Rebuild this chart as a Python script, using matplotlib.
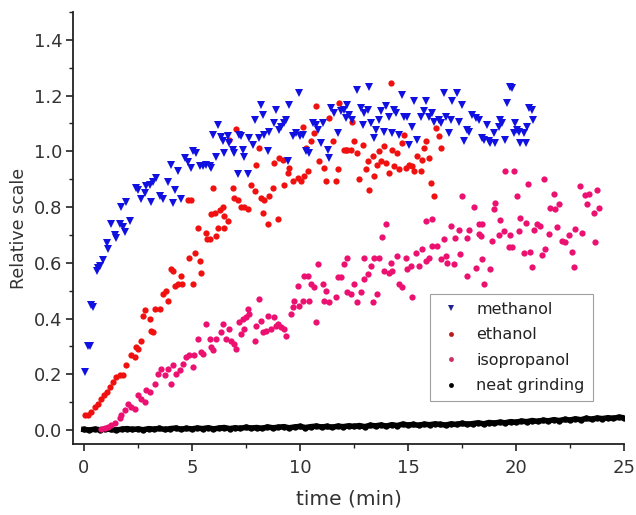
import matplotlib
matplotlib.use("Agg")
import matplotlib.pyplot as plt
from matplotlib.lines import Line2D
from matplotlib.ticker import MultipleLocator

plt.rcParams['font.family'] = ['DejaVu Sans']

# ---------------- data ----------------
methanol_t = [0.05, 0.2, 0.28, 0.35, 0.43, 0.59, 0.66, 0.74, 0.89, 1.05, 1.12, 1.28, 1.43, 1.51, 1.66,
              1.74, 1.81, 1.89, 1.97, 2.12, 2.43, 2.5, 2.66, 2.82, 2.89, 3.05, 3.12, 3.2, 3.35, 3.51,
              3.66, 3.89, 4.05, 4.12, 4.2, 4.36, 4.51, 4.66, 4.82, 4.97, 5.05, 5.2, 5.36, 5.51, 5.66,
              5.82, 5.9, 5.97, 6.13, 6.2, 6.35, 6.43, 6.51, 6.66, 6.74, 6.9, 6.97, 7.12, 7.2, 7.28,
              7.35, 7.43, 7.59, 7.66, 7.82, 7.9, 8.13, 8.2, 8.28, 8.36, 8.51, 8.59, 8.82, 8.89, 9.05,
              9.13, 9.28, 9.36, 9.43, 9.51, 9.66, 9.82, 9.97, 10.0, 10.12, 10.28, 10.43, 10.59, 10.74,
              10.82, 10.97, 11.05, 11.28, 11.36, 11.43, 11.59, 11.74, 11.9, 12.05, 12.12, 12.2, 12.28,
              12.43, 12.66, 12.82, 12.9, 12.97, 13.13, 13.2, 13.28, 13.43, 13.51, 13.67, 13.74, 13.9,
              13.97, 14.13, 14.28, 14.36, 14.44, 14.59, 14.74, 14.82, 14.97, 15.05, 15.2, 15.28, 15.43,
              15.59, 15.74, 15.82, 15.97, 16.13, 16.2, 16.44, 16.51, 16.67, 16.74, 16.9, 16.97, 17.05,
              17.28, 17.36, 17.51, 17.59, 17.74, 17.82, 17.97, 18.13, 18.28, 18.44, 18.51, 18.67, 18.74,
              18.82, 18.97, 19.05, 19.2, 19.28, 19.36, 19.51, 19.59, 19.74, 19.82, 19.9, 19.97, 20.05,
              20.13, 20.2, 20.36, 20.44, 20.51, 20.59, 20.74, 20.8]
methanol_y = [0.21, 0.30, 0.30, 0.45, 0.44, 0.57, 0.58, 0.59, 0.61, 0.67, 0.65, 0.74, 0.70, 0.69, 0.74,
              0.80, 0.73, 0.71, 0.82, 0.75, 0.87, 0.86, 0.83, 0.85, 0.875, 0.88, 0.82, 0.89, 0.905, 0.84,
              0.83, 0.89, 0.95, 0.815, 0.86, 0.93, 0.83, 0.976, 0.96, 0.94, 1.00, 0.994, 0.946, 0.946, 0.95,
              0.946, 0.94, 1.06, 0.98, 1.095, 1.05, 1.036, 0.994, 1.054, 1.03, 1.006, 0.994, 0.917, 1.06, 1.054,
              1.006, 0.98, 0.917, 1.047, 1.024, 1.113, 1.047, 1.167, 1.131, 1.06, 1.0, 1.07, 1.10, 1.149, 1.077,
              1.089, 1.10, 1.113, 0.964, 1.167, 1.054, 1.065, 1.208, 1.054, 1.06, 1.0, 0.994, 1.10, 1.095,
              1.077, 1.03, 1.10, 1.006, 0.976, 1.155, 1.137, 1.065, 1.143, 1.149, 1.119, 1.167, 1.131,
              1.113, 1.22, 1.155, 1.095, 1.137, 1.149, 1.232, 1.10, 1.047, 1.077, 1.113, 1.143, 1.07,
              1.161, 1.125, 1.065, 1.149, 1.137, 1.06, 1.202, 1.125, 1.125, 1.024, 1.089, 1.179, 1.042,
              1.125, 1.143, 1.179, 1.125, 1.137, 1.107, 1.113, 1.10, 1.208, 1.125, 1.065, 1.113, 1.179,
              1.208, 1.107, 1.167, 1.036, 1.077, 1.071, 1.131, 1.119, 1.113, 1.047, 1.042, 1.095, 1.036,
              1.03, 1.065, 1.03, 1.089, 1.113, 1.10, 1.042, 1.173, 1.232, 1.226, 1.065, 1.10, 1.077,
              1.071, 1.03, 1.065, 1.03, 1.089, 1.155, 1.149, 1.113]

ethanol_t = [0.05, 0.2, 0.35, 0.51, 0.66, 0.81, 0.95, 1.05, 1.2, 1.35, 1.51, 1.66, 1.81, 1.97, 2.2,
             2.35, 2.4, 2.51, 2.66, 2.74, 2.82, 3.05, 3.12, 3.2, 3.28, 3.51, 3.66, 3.82, 3.89, 4.05,
             4.12, 4.2, 4.36, 4.51, 4.55, 4.82, 4.89, 4.97, 5.05, 5.15, 5.28, 5.36, 5.43, 5.66, 5.7,
             5.82, 5.9, 5.97, 6.05, 6.13, 6.2, 6.3, 6.43, 6.5, 6.51, 6.66, 6.74, 6.9, 6.95, 7.05,
             7.12, 7.28, 7.43, 7.59, 7.74, 7.9, 7.98, 8.13, 8.2, 8.28, 8.36, 8.51, 8.59, 8.74, 8.82,
             8.97, 9.05, 9.2, 9.28, 9.43, 9.51, 9.66, 9.9, 10.05, 10.12, 10.2, 10.28, 10.36, 10.51,
             10.67, 10.74, 10.9, 11.13, 11.2, 11.36, 11.51, 11.67, 11.74, 11.82, 12.05, 12.12, 12.2,
             12.36, 12.43, 12.51, 12.66, 12.74, 12.9, 13.05, 13.13, 13.2, 13.36, 13.43, 13.59, 13.67,
             13.74, 13.9, 13.97, 14.13, 14.2, 14.28, 14.36, 14.51, 14.59, 14.74, 14.82, 14.9, 15.05,
             15.2, 15.28, 15.43, 15.59, 15.67, 15.74, 15.82, 15.97, 16.05, 16.2, 16.28, 16.44, 16.51]
ethanol_y = [0.054, 0.054, 0.065, 0.083, 0.095, 0.113, 0.125, 0.137, 0.155, 0.173, 0.19, 0.196, 0.196, 0.232, 0.268,
             0.262, 0.298, 0.292, 0.321, 0.411, 0.429, 0.399, 0.357, 0.351, 0.435, 0.435, 0.488, 0.50, 0.464, 0.577,
             0.571, 0.518, 0.524, 0.554, 0.524, 0.824, 0.619, 0.824, 0.524, 0.637, 0.726, 0.607, 0.565, 0.708, 0.685,
             0.685, 0.774, 0.869, 0.78, 0.696, 0.726, 0.79, 0.80, 0.768, 0.726, 0.75, 1.042, 0.869, 0.833, 1.08,
             0.827, 0.80, 0.80, 0.792, 0.881, 0.857, 0.952, 1.012, 0.833, 0.78, 0.827, 0.738, 0.839, 0.869, 0.958,
             0.756, 0.976, 0.97, 0.881, 0.923, 0.94, 0.893, 0.905, 0.893, 1.089, 0.911, 1.012, 0.929, 1.036,
             1.065, 1.161, 0.964, 0.94, 0.893, 1.119, 1.036, 0.893, 0.935, 1.173, 1.006, 1.006, 1.006,
             1.006, 1.107, 1.036, 0.994, 0.899, 1.024, 0.935, 0.964, 0.863, 0.982, 0.911, 0.952, 1.0,
             0.964, 1.018, 0.958, 0.923, 1.244, 1.006, 0.946, 0.994, 0.935, 1.03, 1.06, 0.94, 0.952,
             0.946, 0.929, 0.982, 0.929, 0.97, 1.012, 1.036, 0.976, 0.887, 0.839, 1.083, 1.054, 1.012]

isopropanol_t = [0.8, 1.0, 1.12, 1.28, 1.43, 1.66, 1.74, 1.89, 2.05, 2.2, 2.35, 2.51, 2.66, 2.82, 2.89,
                 3.05, 3.28, 3.43, 3.59, 3.74, 3.89, 4.05, 4.12, 4.28, 4.43, 4.59, 4.74, 4.89, 5.05, 5.12,
                 5.28, 5.43, 5.51, 5.66, 5.82, 5.9, 5.97, 6.13, 6.36, 6.43, 6.59, 6.74, 6.82, 6.97, 7.05,
                 7.2, 7.28, 7.35, 7.43, 7.51, 7.59, 7.66, 7.9, 7.97, 8.13, 8.2, 8.28, 8.43, 8.51, 8.67,
                 8.82, 8.9, 8.97, 9.13, 9.28, 9.36, 9.59, 9.66, 9.74, 9.9, 9.97, 10.12, 10.2, 10.36, 10.43,
                 10.51, 10.67, 10.74, 10.82, 11.05, 11.13, 11.2, 11.36, 11.67, 11.74, 11.9, 12.05, 12.2, 12.2,
                 12.36, 12.51, 12.66, 12.82, 12.97, 12.97, 13.13, 13.28, 13.36, 13.43, 13.59, 13.67, 13.82,
                 13.9, 13.97, 14.13, 14.2, 14.28, 14.51, 14.59, 14.74, 14.9, 14.97, 15.13, 15.2, 15.36, 15.51,
                 15.67, 15.82, 15.82, 15.97, 16.13, 16.13, 16.36, 16.51, 16.67, 16.74, 16.82, 16.97, 17.13,
                 17.2, 17.36, 17.43, 17.51, 17.74, 17.74, 17.82, 18.05, 18.13, 18.28, 18.28, 18.36, 18.44,
                 18.44, 18.51, 18.82, 18.9, 18.97, 19.05, 19.2, 19.28, 19.44, 19.51, 19.66, 19.74, 19.82,
                 19.9, 20.05, 20.13, 20.2, 20.36, 20.44, 20.56, 20.67, 20.74, 20.82, 20.97, 21.13, 21.2,
                 21.28, 21.36, 21.51, 21.59, 21.74, 21.82, 21.9, 21.97, 22.13, 22.28, 22.44, 22.59, 22.67,
                 22.74, 22.97, 23.05, 23.2, 23.28, 23.36, 23.59, 23.66, 23.74, 23.82]
isopropanol_y = [0.002, 0.008, 0.012, 0.018, 0.024, 0.042, 0.054, 0.071, 0.095, 0.083, 0.077, 0.125, 0.113, 0.101, 0.143,
                 0.137, 0.167, 0.202, 0.22, 0.196, 0.22, 0.167, 0.232, 0.202, 0.214, 0.238, 0.262, 0.268, 0.226, 0.268,
                 0.327, 0.28, 0.274, 0.381, 0.327, 0.298, 0.286, 0.327, 0.351, 0.381, 0.327, 0.363, 0.321, 0.31, 0.292,
                 0.387, 0.345, 0.399, 0.363, 0.405, 0.435, 0.417, 0.321, 0.375, 0.47, 0.393, 0.351, 0.357, 0.411, 0.363,
                 0.405, 0.375, 0.381, 0.369, 0.363, 0.339, 0.417, 0.44, 0.464, 0.518, 0.446, 0.464, 0.554, 0.554, 0.464,
                 0.524, 0.512, 0.387, 0.595, 0.524, 0.464, 0.50, 0.458, 0.476, 0.548, 0.548, 0.595, 0.494, 0.619,
                 0.488, 0.524, 0.458, 0.494, 0.542, 0.619, 0.56, 0.589, 0.458, 0.619, 0.488, 0.619, 0.693,
                 0.571, 0.738, 0.565, 0.601, 0.571, 0.625, 0.524, 0.512, 0.619, 0.577, 0.589, 0.476, 0.637, 0.589,
                 0.649, 0.75, 0.607, 0.619, 0.756, 0.661, 0.661, 0.613, 0.685, 0.625, 0.601, 0.732, 0.595,
                 0.69, 0.717, 0.631, 0.839, 0.69, 0.554, 0.717, 0.80, 0.583, 0.738, 0.705, 0.696, 0.738,
                 0.613, 0.524, 0.577, 0.679, 0.792, 0.815, 0.70, 0.752, 0.714, 0.931, 0.655, 0.70, 0.655,
                 0.931, 0.839, 0.714, 0.762, 0.637, 0.744, 0.883, 0.64, 0.586, 0.717, 0.738, 0.732, 0.629,
                 0.901, 0.649, 0.702, 0.798, 0.848, 0.792, 0.729, 0.81, 0.679, 0.673, 0.70, 0.639, 0.586,
                 0.72, 0.877, 0.708, 0.845, 0.81, 0.848, 0.78, 0.673, 0.86, 0.798]

neat_t = [0.0, 0.25, 0.5, 0.75, 1.0, 1.25, 1.5, 1.75, 2.0, 2.25, 2.5, 2.75, 3.0, 3.25, 3.5, 3.75,
          4.0, 4.25, 4.5, 4.75, 5.0, 5.25, 5.5, 5.75, 6.0, 6.25, 6.5, 6.75, 7.0, 7.25, 7.5, 7.75,
          8.0, 8.25, 8.5, 8.75, 9.0, 9.25, 9.5, 9.75, 10.0, 10.25, 10.5, 10.75, 11.0, 11.25, 11.5,
          11.75, 12.0, 12.25, 12.5, 12.75, 13.0, 13.25, 13.5, 13.75, 14.0, 14.25, 14.5, 14.75, 15.0,
          15.25, 15.5, 15.75, 16.0, 16.25, 16.5, 16.75, 17.0, 17.25, 17.5, 17.75, 18.0, 18.25, 18.5,
          18.75, 19.0, 19.25, 19.5, 19.75, 20.0, 20.25, 20.5, 20.75, 21.0, 21.25, 21.5, 21.75, 22.0,
          22.25, 22.5, 22.75, 23.0, 23.25, 23.5, 23.75, 24.0, 24.25, 24.5, 24.75, 25.0]
neat_y = [0.002, 0.000, 0.003, 0.001, 0.004, 0.002, 0.000, 0.003, 0.005, 0.002, 0.004, 0.001, 0.005, 0.003,
          0.006, 0.002, 0.005, 0.007, 0.003, 0.006, 0.004, 0.007, 0.005, 0.008, 0.004, 0.007, 0.009, 0.005,
          0.008, 0.006, 0.010, 0.007, 0.009, 0.006, 0.011, 0.008, 0.010, 0.012, 0.008, 0.011, 0.013, 0.009,
          0.012, 0.014, 0.011, 0.013, 0.010, 0.014, 0.012, 0.015, 0.013, 0.016, 0.012, 0.017, 0.015, 0.018,
          0.014, 0.019, 0.016, 0.021, 0.018, 0.020, 0.017, 0.021, 0.019, 0.022, 0.020, 0.018, 0.022, 0.020,
          0.024, 0.021, 0.023, 0.026, 0.022, 0.027, 0.025, 0.028, 0.026, 0.030, 0.028, 0.032, 0.030, 0.034,
          0.031, 0.035, 0.033, 0.037, 0.034, 0.038, 0.036, 0.040, 0.037, 0.042, 0.039, 0.043, 0.041, 0.044,
          0.042, 0.046, 0.044]

series_labels = ["methanol", "ethanol", "isopropanol", "neat grinding"]
series_colors = ["#1010e0", "#f01010", "#ec1070", "#000000"]
legend_colors = ["#202090", "#c01818", "#c8306a", "#000000"]
x_ticks = [0, 5, 10, 15, 20, 25]
y_ticks = [0.0, 0.2, 0.4, 0.6, 0.8, 1.0, 1.2, 1.4]

# ---------------- figure ----------------
fig = plt.figure(figsize=(6.36, 5.15), dpi=100)
ax = fig.add_axes([0.1148, 0.1379, 0.8664, 0.8388])

# neat grinding: dense noisy trace, drawn as a thick band of points
ax.plot(neat_t, neat_y, linestyle='-', linewidth=4.0, marker='o', markersize=4.6,
        color=series_colors[3], markeredgewidth=0)
ax.plot(isopropanol_t, isopropanol_y, linestyle='none', marker='o', markersize=4.5,
        color=series_colors[2], markeredgewidth=0)
ax.plot(ethanol_t, ethanol_y, linestyle='none', marker='o', markersize=4.5,
        color=series_colors[1], markeredgewidth=0)
ax.plot(methanol_t, methanol_y, linestyle='none', marker='v', markersize=5.4,
        color=series_colors[0], markeredgewidth=0)

ax.set_xlim(-0.5, 25)
ax.set_ylim(-0.05, 1.5)
ax.set_xticks(x_ticks)
ax.set_xticklabels([str(v) for v in x_ticks])
ax.set_yticks(y_ticks)
ax.set_yticklabels([f"{v:.1f}" for v in y_ticks])
ax.xaxis.set_minor_locator(MultipleLocator(2.5))
ax.yaxis.set_minor_locator(MultipleLocator(0.1))

for s in ['top', 'right']:
    ax.spines[s].set_visible(False)
for s in ['left', 'bottom']:
    ax.spines[s].set_linewidth(1.3)
    ax.spines[s].set_color('#222222')

ax.tick_params(which='major', direction='out', length=5, width=1.2, labelsize=13,
               colors='#222222', pad=2.5)
ax.tick_params(which='minor', direction='out', length=3, width=1.0, colors='#222222')
ax.tick_params(axis='x', pad=6)
for lab in ax.get_xticklabels() + ax.get_yticklabels():
    lab.set_color('#333333')

ax.set_xlabel("time (min)", fontsize=14.5, color='#333333', labelpad=9)
ax.set_ylabel("Relative scale", fontsize=12.5, color='#333333', labelpad=4)

handles = [
    Line2D([], [], linestyle='none', marker='v', markersize=4, color=legend_colors[0], markeredgewidth=0),
    Line2D([], [], linestyle='none', marker='o', markersize=3.5, color=legend_colors[1], markeredgewidth=0),
    Line2D([], [], linestyle='none', marker='o', markersize=3.5, color=legend_colors[2], markeredgewidth=0),
    Line2D([], [], linestyle='none', marker='o', markersize=3.5, color=legend_colors[3], markeredgewidth=0),
]
leg = ax.legend(handles, series_labels, loc='upper left', bbox_to_anchor=(0.648, 0.347),
                borderaxespad=0, fontsize=11.5, frameon=True, fancybox=False,
                edgecolor='#888888', labelspacing=0.65, handletextpad=0.8,
                handlelength=1.6, borderpad=0.5)
leg.get_frame().set_linewidth(0.8)
for t in leg.get_texts():
    t.set_color('#222222')

fig.savefig("out.png", dpi=100)
